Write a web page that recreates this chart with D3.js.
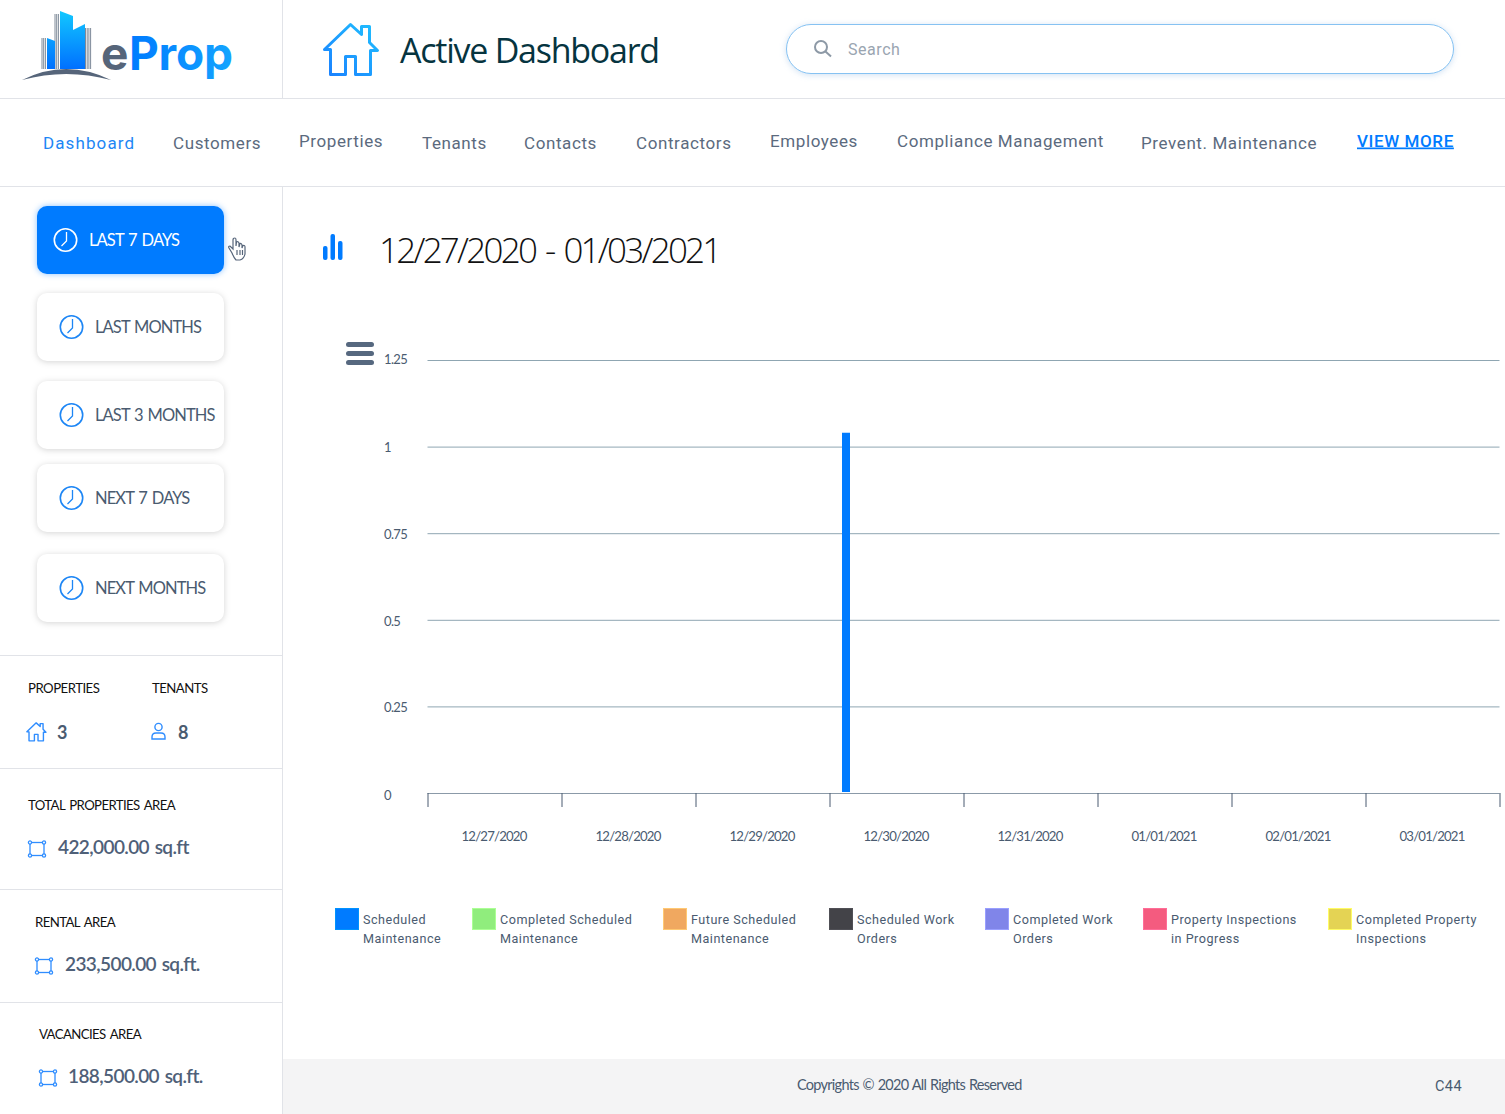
<!DOCTYPE html>
<html>
  <head>
    <title>Active Dashboard</title>
    <script src="https://d3js.org/d3.v7.min.js"></script>
    <style>
      html, body { margin: 0; padding: 0; background: #fff; overflow: hidden; }
      svg { display: block; }
      text { font-family: Lato, sans-serif; }
      .nav { font-family: Roboto, sans-serif; font-size: 17px; letter-spacing: 0.6px; fill: #5b6a7e; }
      .legend-label { font-family: Roboto, sans-serif; font-size: 12.6px; letter-spacing: 0.5px; fill: #4a5b70; }
      .axis .domain { display: none; }
      .axis--y .tick line { stroke: #8fa6b2; stroke-width: 1px; }
      .axis--y .tick text { font-family: Lato, sans-serif; font-size: 13px; letter-spacing: -0.65px; fill: #4a5b70; text-anchor: start; }
      .axis--x .tick line { stroke: #4a5b70; stroke-width: 1px; }
      .axis--x .tick text { font-family: Lato, sans-serif; font-size: 13.2px; letter-spacing: -0.8px; fill: #4a5b70; }
      .axis--x .baseline { stroke: #8b9aa8; stroke-width: 1px; }
    </style>
  </head>
  <body>
    <svg width="1505" height="1114"></svg>
    <script>
      // chart data
      const dates = ["12/27/2020", "12/28/2020", "12/29/2020", "12/30/2020",
        "12/31/2020", "01/01/2021", "02/01/2021", "03/01/2021"];
      const yTicks = [0, 0.25, 0.5, 0.75, 1, 1.25];
      const seriesNames = ["Scheduled Maintenance", "Completed Scheduled Maintenance",
        "Future Scheduled Maintenance", "Scheduled Work Orders", "Completed Work Orders",
        "Property Inspections in Progress", "Completed Property Inspections"];
      const scheduledMaintenance = [0, 0, 0, 1.04, 0, 0, 0, 0];
      const completedScheduled = [0, 0, 0, 0, 0, 0, 0, 0];
      const futureScheduled = [0, 0, 0, 0, 0, 0, 0, 0];
      const scheduledWork = [0, 0, 0, 0, 0, 0, 0, 0];
      const completedWork = [0, 0, 0, 0, 0, 0, 0, 0];
      const inspectionsInProgress = [0, 0, 0, 0, 0, 0, 0, 0];
      const completedInspections = [0, 0, 0, 0, 0, 0, 0, 0];
      const seriesValues = [scheduledMaintenance, completedScheduled, futureScheduled,
        scheduledWork, completedWork, inspectionsInProgress, completedInspections];

      // page text
      const navLabels = ["Dashboard", "Customers", "Properties", "Tenants", "Contacts",
        "Contractors", "Employees", "Compliance Management", "Prevent. Maintenance"];
      const rangeLabels = ["LAST 7 DAYS", "LAST MONTHS", "LAST 3 MONTHS", "NEXT 7 DAYS", "NEXT MONTHS"];
      const areaLabels = ["TOTAL PROPERTIES AREA", "RENTAL AREA", "VACANCIES AREA"];
      const areaValues = ["422,000.00 sq.ft", "233,500.00 sq.ft.", "188,500.00 sq.ft."];

      // layout + colours
      const seriesColors = ["#007bff", "#90ed7d", "#f0a860", "#434348", "#8085e9", "#f45b7f", "#e4d354"];
      const legendX = [335, 472, 663, 829, 985, 1143, 1328];
      const legendLines = [["Scheduled", "Maintenance"], ["Completed Scheduled", "Maintenance"],
        ["Future Scheduled", "Maintenance"], ["Scheduled Work", "Orders"], ["Completed Work", "Orders"],
        ["Property Inspections", "in Progress"], ["Completed Property", "Inspections"]];
      const navX = [43, 173, 299, 422, 524, 636, 770, 897, 1141];
      const navY = [148.5, 148.5, 146.5, 148.5, 148.5, 148.5, 146.5, 146.5, 148.5];
      const rangeY = [206, 293, 381, 464, 554];
      const areaX = [28, 35, 39];
      const areaY = [810, 927, 1039];
      const areaValueX = [58, 65, 68];
      const ruleY = [655, 768, 889, 1002];

      const blue = "#007bff", slate = "#4a5b70", rule = "#e1e3e8";
      const svg = d3.select("svg");
      const defs = svg.append("defs");

      const logoGrad = defs.append("linearGradient").attr("id", "logoGrad")
        .attr("x1", 0).attr("y1", 0).attr("x2", 0).attr("y2", 1);
      logoGrad.append("stop").attr("offset", 0).attr("stop-color", "#12c8ff");
      logoGrad.append("stop").attr("offset", 1).attr("stop-color", "#0070ff");
      const wordGrad = defs.append("linearGradient").attr("id", "wordGrad")
        .attr("gradientUnits", "userSpaceOnUse")
        .attr("x1", 130).attr("y1", 0).attr("x2", 232).attr("y2", 0);
      wordGrad.append("stop").attr("offset", 0).attr("stop-color", "#007bff");
      wordGrad.append("stop").attr("offset", 1).attr("stop-color", "#14a4ff");
      const houseGrad = defs.append("linearGradient").attr("id", "houseGrad")
        .attr("x1", 1).attr("y1", 0).attr("x2", 0).attr("y2", 1);
      houseGrad.append("stop").attr("offset", 0).attr("stop-color", "#20c0ff");
      houseGrad.append("stop").attr("offset", 1).attr("stop-color", "#1a80ff");

      function label(parent, str, x, y, size, fill, opts) {
        opts = opts || {};
        return parent.append("text").text(str)
          .attr("x", x).attr("y", y)
          .attr("font-size", size)
          .attr("fill", fill)
          .attr("font-weight", opts.weight || 400)
          .attr("letter-spacing", opts.spacing || 0)
          .attr("word-spacing", opts.words || 0)
          .style("font-family", opts.family || null);
      }

      function hline(x1, x2, y, color) {
        svg.append("line").attr("x1", x1).attr("x2", x2).attr("y1", y + 0.5).attr("y2", y + 0.5).attr("stroke", color);
      }
      function vline(x, y1, y2, color) {
        svg.append("line").attr("x1", x + 0.5).attr("x2", x + 0.5).attr("y1", y1).attr("y2", y2).attr("stroke", color);
      }

      function houseIcon(x, y, k, stroke, width) {
        svg.append("path")
          .attr("transform", `translate(${x},${y}) scale(${k})`)
          .attr("d", "M1 26 L27 1 L38 11 L38 3 L46 3 L46 19 L54 27 L47 27 L47 51 L32 51 L32 33 L22 33 L22 51 L7 51 L7 26 Z")
          .attr("fill", "none").attr("stroke", stroke)
          .attr("stroke-width", width / k).attr("stroke-linejoin", "round");
      }

      function clockIcon(cx, cy, color) {
        const g = svg.append("g").attr("transform", `translate(${cx},${cy})`)
          .attr("fill", "none").attr("stroke", color).attr("stroke-width", 1.6);
        g.append("circle").attr("r", 11.2);
        g.append("path").attr("d", "M1 -8 L1 1 L-4 6").attr("stroke-width", 1.3);
      }

      function areaIcon(x, y) {
        const g = svg.append("g").attr("transform", `translate(${x},${y})`)
          .attr("fill", "#fff").attr("stroke", "#2f8dff").attr("stroke-width", 1.3);
        g.append("rect").attr("x", 1.5).attr("y", 1.5).attr("width", 14).attr("height", 13);
        [[1.5, 1.5], [15.5, 1.5], [1.5, 14.5], [15.5, 14.5]].forEach(p => {
          g.append("circle").attr("cx", p[0]).attr("cy", p[1]).attr("r", 1.6);
        });
      }

      // frame
      svg.append("rect").attr("x", 283).attr("y", 1059).attr("width", 1222).attr("height", 55).attr("fill", "#f4f4f5");
      hline(0, 1505, 98, rule);
      hline(0, 1505, 186, rule);
      vline(282, 0, 98, rule);
      vline(282, 187, 1114, rule);
      ruleY.forEach(y => hline(0, 282, y, rule));

      // logo
      const logo = svg.append("g");
      const stripes = logo.append("g").attr("stroke", "#6f7d8d").attr("stroke-width", 0.9);
      d3.range(42, 47, 1.7).forEach(sx => {
        stripes.append("line").attr("x1", sx).attr("x2", sx).attr("y1", 38).attr("y2", 69);
      });
      d3.range(55, 60, 1.7).forEach(sx => {
        stripes.append("line").attr("x1", sx).attr("x2", sx).attr("y1", 14).attr("y2", 69);
      });
      d3.range(85.5, 92, 1.7).forEach(sx => {
        stripes.append("line").attr("x1", sx).attr("x2", sx).attr("y1", 28).attr("y2", 69);
      });
      logo.append("path").attr("fill", "url(#logoGrad)")
        .attr("d", "M47 38 L55 41 L55 69 L47 69 Z M60 11 L73 16 L73 30 L69 32 L69 69 L60 69 Z M69 32 L85 24 L85 69 L69 69 Z");
      logo.append("path").attr("fill", "#56657a")
        .attr("d", "M22 80 Q66 58 111 80 Q66 68 22 80 Z");
      label(logo, "e", 101, 70, 46, "#56657a", { weight: 700, family: "Inter, sans-serif" });
      label(logo, "Prop", 129, 70, 46, "url(#wordGrad)", { weight: 700, family: "Inter, sans-serif", spacing: -0.2 });

      // header
      houseIcon(323.5, 23.5, 1, "url(#houseGrad)", 3);
      label(svg, "Active Dashboard", 400, 63, 34, "#06343f", { family: "'Open Sans', sans-serif", spacing: -1.25 });

      svg.append("rect").attr("x", 786.5).attr("y", 24.5).attr("width", 667).attr("height", 49).attr("rx", 24.5)
        .attr("fill", "#fff").attr("stroke", "#86c2f2").style("filter", "drop-shadow(0 1px 3px rgba(120,170,220,.35))");
      const lens = svg.append("g").attr("fill", "none").attr("stroke", "#8d99a6").attr("stroke-width", 2);
      lens.append("circle").attr("cx", 821).attr("cy", 47).attr("r", 6);
      lens.append("path").attr("d", "M825.5 51.5 L831 56.5");
      label(svg, "Search", 848, 55, 16, "#9aa5b1", { family: "Roboto, sans-serif", spacing: 0.55 });

      // nav
      svg.selectAll(".nav").data(navLabels).join("text")
        .attr("class", "nav")
        .attr("x", (d, i) => navX[i])
        .attr("y", (d, i) => navY[i])
        .style("fill", (d, i) => i === 0 ? "#1d86f5" : null)
        .style("letter-spacing", (d, i) => i === 0 ? "1.1px" : null)
        .text(d => d);
      label(svg, "VIEW MORE", 1357, 146.5, 17, blue, { family: "Roboto, sans-serif", weight: 500, spacing: 0.6 })
        .attr("text-decoration", "underline");

      // range buttons
      rangeLabels.forEach((d, i) => {
        const active = i === 0;
        svg.append("rect").attr("x", 37).attr("y", rangeY[i]).attr("width", 187).attr("height", 68).attr("rx", 10)
          .attr("fill", active ? blue : "#fff")
          .style("filter", active ? "drop-shadow(0 0 3px rgba(0,123,255,.45))" : "drop-shadow(0 1px 3px rgba(0,0,0,.17))");
        clockIcon(active ? 65.5 : 71.5, rangeY[i] + 34, active ? "#fff" : "#1d86f5");
        label(svg, d, active ? 89 : 95, rangeY[i] + 40, 16.5, active ? "#fff" : slate, { spacing: -0.9, words: 1.5 });
      });

      // hand cursor
      svg.append("path")
        .attr("transform", "translate(227,237)")
        .attr("d", "M5 16 L2 11 Q1 9 3 9 L6 12 L6 3 Q6 1 8 1 Q9 1 9 3 L9 9 L9.5 5 Q11 4 12 6 L12 10 L13 6.5 Q14.5 6 15 8 L15 11 L16 8.5 Q18 8 18 10 L18 17 Q17 22 13 23 L9 23 Q7 21 5 16 Z M10 13 L10 18 M13 13 L13 18 M15.5 13 L15.5 18")
        .attr("fill", "#fff").attr("stroke", "#56657a").attr("stroke-width", 1.2);

      // counters
      label(svg, "PROPERTIES", 28, 693, 13.2, "#111", { spacing: -0.5 });
      label(svg, "TENANTS", 152, 693, 13.2, "#111", { spacing: -0.55 });
      houseIcon(26.5, 722.5, 0.36, "#2f8dff", 1.4);
      label(svg, "3", 57, 738.5, 18, slate, { weight: 700 });
      const person = svg.append("g").attr("fill", "none").attr("stroke", "#2f8dff").attr("stroke-width", 1.4);
      person.append("circle").attr("cx", 158.5).attr("cy", 727).attr("r", 3.6);
      person.append("path").attr("d", "M152 739 L152 737 Q152 733 156 733 L161 733 Q165 733 165 737 L165 739 Z");
      label(svg, "8", 178, 738.5, 18, slate, { weight: 700 });

      // area blocks
      areaLabels.forEach((d, i) => {
        label(svg, d, areaX[i], areaY[i], 13.2, "#111", { spacing: -0.6, words: 1.8 });
        areaIcon(areaX[i] + 0.5, areaY[i] + 31);
        label(svg, areaValues[i], areaValueX[i], areaY[i] + 44, 19, "#4f6078", { weight: 600, spacing: -0.6, words: 1.5 });
      });

      // title
      const titleIcon = svg.append("g").attr("fill", blue);
      titleIcon.append("rect").attr("x", 323).attr("y", 246).attr("width", 4.5).attr("height", 14).attr("rx", 2);
      titleIcon.append("rect").attr("x", 330.5).attr("y", 234).attr("width", 4.5).attr("height", 26).attr("rx", 2);
      titleIcon.append("rect").attr("x", 338).attr("y", 241).attr("width", 4.5).attr("height", 19).attr("rx", 2);
      label(svg, "12/27/2020 - 01/03/2021", 379, 263, 35, "#111", { family: "'Open Sans', sans-serif", weight: 300, spacing: -2.75, words: 3.5 });

      const burger = svg.append("g").attr("fill", "#56687f");
      [342, 351, 360].forEach(y => {
        burger.append("rect").attr("x", 346).attr("y", y).attr("width", 28).attr("height", 5).attr("rx", 2.5);
      });

      // chart
      const plot = { left: 427.5, right: 1499.5, top: 360, bottom: 793 };
      const x = d3.scaleBand().domain(dates).range([plot.left, plot.right]);
      const yScale = d3.scaleLinear().domain([0, 1.25]).range([plot.bottom, plot.top]);
      const xInner = d3.scaleBand().domain(seriesNames).range([12.5, 116.5]).paddingInner(0.5);

      const yAxis = svg.append("g").attr("class", "axis axis--y")
        .attr("transform", `translate(${plot.left},0)`)
        .call(d3.axisLeft(yScale).tickValues(yTicks.slice(1)).tickSize(-(plot.right - plot.left)).tickFormat(d => d));
      yAxis.selectAll(".tick text").attr("x", 384 - plot.left).attr("dy", d => d === 1.25 ? "0.3em" : d === 1 ? "0.36em" : "0.42em");
      const yZero = svg.append("g").attr("class", "axis axis--y")
        .attr("transform", `translate(${plot.left},0)`)
        .call(d3.axisLeft(yScale).tickValues([yTicks[0]]).tickSize(0).tickFormat(d => d));
      yZero.selectAll(".tick text").attr("x", 384 - plot.left).attr("dy", "0.5em");

      const xAxis = svg.append("g").attr("class", "axis axis--x")
        .attr("transform", `translate(0,${plot.bottom})`)
        .call(d3.axisBottom(x).tickSize(0).tickPadding(39));
      xAxis.selectAll(".tick text").attr("dx", -0.5);
      xAxis.append("line").attr("class", "baseline")
        .attr("x1", plot.left).attr("x2", plot.right).attr("y1", 0.5).attr("y2", 0.5);
      const edge = d3.scaleLinear().domain([0, dates.length]).range([plot.left, plot.right]);
      svg.append("g").attr("class", "axis axis--x")
        .attr("transform", `translate(0,${plot.bottom})`)
        .call(d3.axisBottom(edge).tickValues(d3.range(dates.length + 1)).tickSize(14).tickFormat(""));

      const groups = svg.selectAll(".series").data(seriesNames).join("g")
        .attr("class", "series").attr("fill", (d, i) => seriesColors[i]);
      groups.selectAll("rect")
        .data((name, i) => dates.map((date, j) => ({ name, date, value: seriesValues[i][j] })).filter(d => d.value > 0))
        .join("rect")
        .attr("x", d => x(d.date) + xInner(d.name))
        .attr("y", d => yScale(d.value))
        .attr("width", xInner.bandwidth())
        .attr("height", d => yScale(0) - yScale(d.value) - 1);

      // legend
      const legend = svg.selectAll(".legend-item").data(seriesNames).join("g")
        .attr("class", "legend-item")
        .attr("transform", (d, i) => `translate(${legendX[i]},908)`);
      legend.append("rect").attr("x", 0.5).attr("y", 0.5).attr("width", 23).attr("height", 21)
        .attr("fill", (d, i) => seriesColors[i])
        .attr("stroke", (d, i) => d3.color(seriesColors[i]).brighter(0.5).formatHex());
      legend.each(function(d, i) {
        legendLines[i].forEach((line, k) => {
          d3.select(this).append("text").attr("class", "legend-label")
            .attr("x", 28).attr("y", 16 + k * 19).text(line);
        });
      });

      // footer
      label(svg, "Copyrights © 2020 All Rights Reserved", 797, 1090, 14.5, slate, { spacing: -0.72, words: 0.8 });
      label(svg, "C44", 1435, 1091, 14.5, slate, { family: "Roboto, sans-serif", spacing: 0.4 });
    </script>
  </body>
</html>
